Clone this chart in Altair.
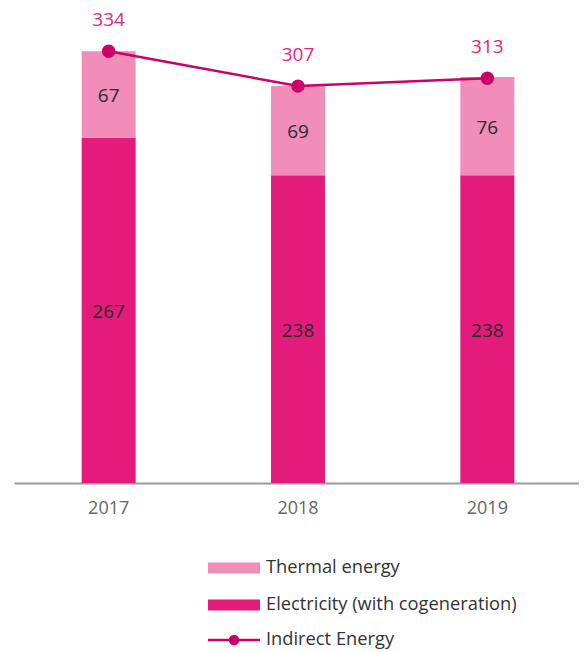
import altair as alt
import pandas as pd

years = ["2017", "2018", "2019"]
electricity = [267, 238, 238]
thermal = [67, 69, 76]
indirect = [334, 307, 313]

series_names = ["Electricity (with cogeneration)", "Thermal energy"]
series_colors = ["#E31B7B", "#F08DB9"]
line_color = "#CC0068"
label_color = "#E0287A"
legend_labels = ["Thermal energy", "Electricity (with cogeneration)", "Indirect Energy"]

FONT = "Open Sans"
FW = 400

rows = []
for i, y in enumerate(years):
    rows.append({"year": y, "series": series_names[0], "value": electricity[i], "order": 0})
    rows.append({"year": y, "series": series_names[1], "value": thermal[i], "order": 1})
bars_df = pd.DataFrame(rows)
line_df = pd.DataFrame({"year": years, "total": indirect})

W, H = 565, 475
x_scale = alt.Scale(domain=years, range=[0, 568], paddingInner=0, paddingOuter=0)
y_scale = alt.Scale(domain=[0, 367.4])

x_enc = alt.X("year:N", scale=x_scale, sort=years,
              axis=alt.Axis(title=None, labelAngle=0, ticks=False, domainColor="#9a9a9a",
                            domainWidth=2, labelFontSize=18, labelColor="#666666",
                            labelFont=FONT, labelFontWeight=FW, labelPadding=16, grid=False))

bars = alt.Chart(bars_df).mark_bar(size=54).encode(
    x=x_enc,
    y=alt.Y("value:Q", stack="zero", scale=y_scale, axis=None),
    color=alt.Color("series:N", scale=alt.Scale(domain=series_names, range=series_colors), legend=None),
    order=alt.Order("order:Q"),
)

inner = alt.Chart(bars_df).transform_stack(
    stack="value", groupby=["year"], as_=["y0", "y1"], sort=[alt.SortField("order")]
).transform_calculate(mid="(datum.y0 + datum.y1) / 2").mark_text(
    fontSize=19, font=FONT, fontWeight=FW, color="#2b2b2b", dy=1.5
).encode(
    x=alt.X("year:N", scale=x_scale, sort=years),
    y=alt.Y("mid:Q", scale=y_scale),
    text=alt.Text("value:Q"),
)

line = alt.Chart(line_df).mark_line(color=line_color, strokeWidth=2.5).encode(
    x=alt.X("year:N", scale=x_scale, sort=years),
    y=alt.Y("total:Q", scale=y_scale),
)
pts = alt.Chart(line_df).mark_point(filled=True, size=180, color=line_color, opacity=1).encode(
    x=alt.X("year:N", scale=x_scale, sort=years),
    y=alt.Y("total:Q", scale=y_scale),
)
tot_labels = alt.Chart(line_df).mark_text(fontSize=19, font=FONT, fontWeight=FW, color=label_color, dy=-31).encode(
    x=alt.X("year:N", scale=x_scale, sort=years),
    y=alt.Y("total:Q", scale=y_scale),
    text=alt.Text("total:Q"),
)

# custom legend
leg_df = pd.DataFrame({"label": legend_labels})
lx0, lx1, ltx = 194, 246, 252
row_y = [560, 597, 632]
legend_layers = []
for i, lab in enumerate(legend_labels):
    d = leg_df[leg_df.label == lab]
    if i < 2:
        col = series_colors[1] if i == 0 else series_colors[0]
        legend_layers.append(alt.Chart(d).mark_rect(color=col).encode(
            x=alt.value(lx0), x2=alt.value(lx1), y=alt.value(row_y[i] - 5.5), y2=alt.value(row_y[i] + 5.5)))
    else:
        legend_layers.append(alt.Chart(d).mark_rule(color=line_color, strokeWidth=2.5).encode(
            x=alt.value(lx0), x2=alt.value(lx1), y=alt.value(row_y[i])))
        legend_layers.append(alt.Chart(d).mark_point(filled=True, size=110, color=line_color, opacity=1).encode(
            x=alt.value((lx0 + lx1) / 2), y=alt.value(row_y[i])))
    legend_layers.append(alt.Chart(d).mark_text(align="left", baseline="middle", fontSize=18.3,
                                                font=FONT, fontWeight=FW, color="#333333").encode(
        x=alt.value(ltx), y=alt.value(row_y[i]), text="label:N"))

chart = alt.layer(bars, inner, line, pts, tot_labels, *legend_layers).properties(
    width=W, height=H,
    autosize=alt.AutoSizeParams(type="none"),
    padding={"left": 6, "top": 0, "right": 0, "bottom": 168},
).configure_view(stroke=None)

chart.save("out.html", embed_options={"renderer": "svg", "actions": False})
